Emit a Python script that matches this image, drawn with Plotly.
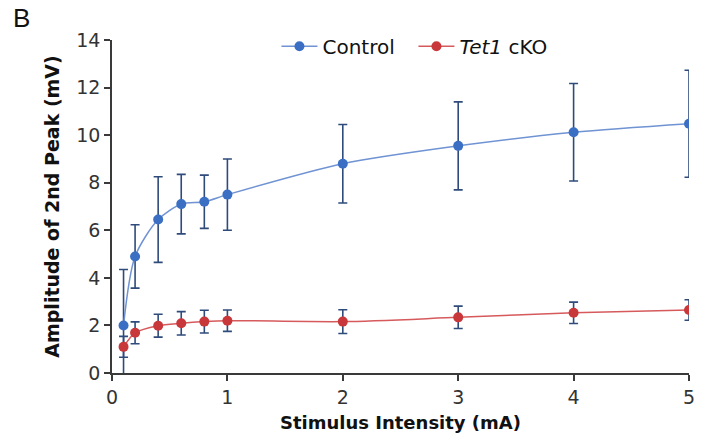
import plotly.graph_objects as go

stim = [0.1, 0.2, 0.4, 0.6, 0.8, 1, 2, 3, 4, 5]
control = [2.0, 4.9, 6.45, 7.1, 7.2, 7.5, 8.8, 9.55, 10.12, 10.48]
control_err = [2.35, 1.33, 1.8, 1.25, 1.12, 1.5, 1.65, 1.85, 2.05, 2.25]
cko = [1.1, 1.69, 1.99, 2.09, 2.16, 2.2, 2.16, 2.34, 2.53, 2.65]
cko_err = [0.44, 0.46, 0.48, 0.49, 0.48, 0.45, 0.5, 0.47, 0.45, 0.43]

x_ticks = [0, 1, 2, 3, 4, 5]
y_ticks = [0, 2, 4, 6, 8, 10, 12, 14]

FONT = "DejaVu Sans, Liberation Sans, Arial, sans-serif"
ERR_COLOR = "#2f4b7c"

fig = go.Figure()
fig.add_trace(go.Scatter(
    x=stim, y=control, name="Control", mode="lines+markers",
    line=dict(color="#6f93d3", width=1.5, shape="spline", smoothing=0.8),
    marker=dict(color="#3b6fc4", size=10),
    error_y=dict(type="data", array=control_err, color=ERR_COLOR, thickness=1.6, width=4.5),
))
fig.add_trace(go.Scatter(
    x=stim, y=cko, name="<i>Tet1</i> cKO", mode="lines+markers",
    line=dict(color="#d65a5c", width=1.5, shape="spline", smoothing=0.8),
    marker=dict(color="#c8373a", size=10),
    error_y=dict(type="data", array=cko_err, color=ERR_COLOR, thickness=1.6, width=4.5),
))

fig.update_layout(
    width=701, height=440,
    margin=dict(l=112, r=12, t=40, b=67),
    paper_bgcolor="white", plot_bgcolor="white",
    font=dict(family=FONT, color="#222222"),
    showlegend=True,
    legend=dict(orientation="h", x=0.285, y=1.04, xanchor="left", yanchor="top",
                font=dict(size=20, color="#111111"), bgcolor="rgba(0,0,0,0)",
                itemwidth=36, entrywidth=86, tracegroupgap=0),
    xaxis=dict(range=[0, 5], tickvals=x_ticks, showgrid=False, zeroline=False,
               automargin=False, ticklabeloverflow="allow",
               showline=True, linecolor="#3a3a3a", linewidth=1.5,
               ticks="outside", ticklen=6, tickcolor="#3a3a3a", tickwidth=1.5,
               tickfont=dict(size=19, color="#333333"),
               title=dict(text="<b>Stimulus Intensity (mA)</b>", font=dict(size=18, color="#111111"), standoff=10)),
    yaxis=dict(range=[0, 14], tickvals=y_ticks, showgrid=False, zeroline=False,
               automargin=False,
               showline=True, linecolor="#3a3a3a", linewidth=1.5,
               ticks="outside", ticklen=6, tickcolor="#3a3a3a", tickwidth=1.5,
               tickfont=dict(size=19, color="#333333"),
               title=dict(text="<b>Amplitude of 2nd Peak (mV)</b>", font=dict(size=19, color="#111111"), standoff=12)),
    annotations=[dict(text="B", x=-0.175, y=1.065, xref="paper", yref="paper", showarrow=False,
                      xanchor="left", yanchor="middle",
                      font=dict(size=26, color="#111111", family="Liberation Sans, Arial, sans-serif"))],
)

fig.write_html("out.html", config={"displayModeBar": False},
               post_script="document.body.style.margin='0';")
